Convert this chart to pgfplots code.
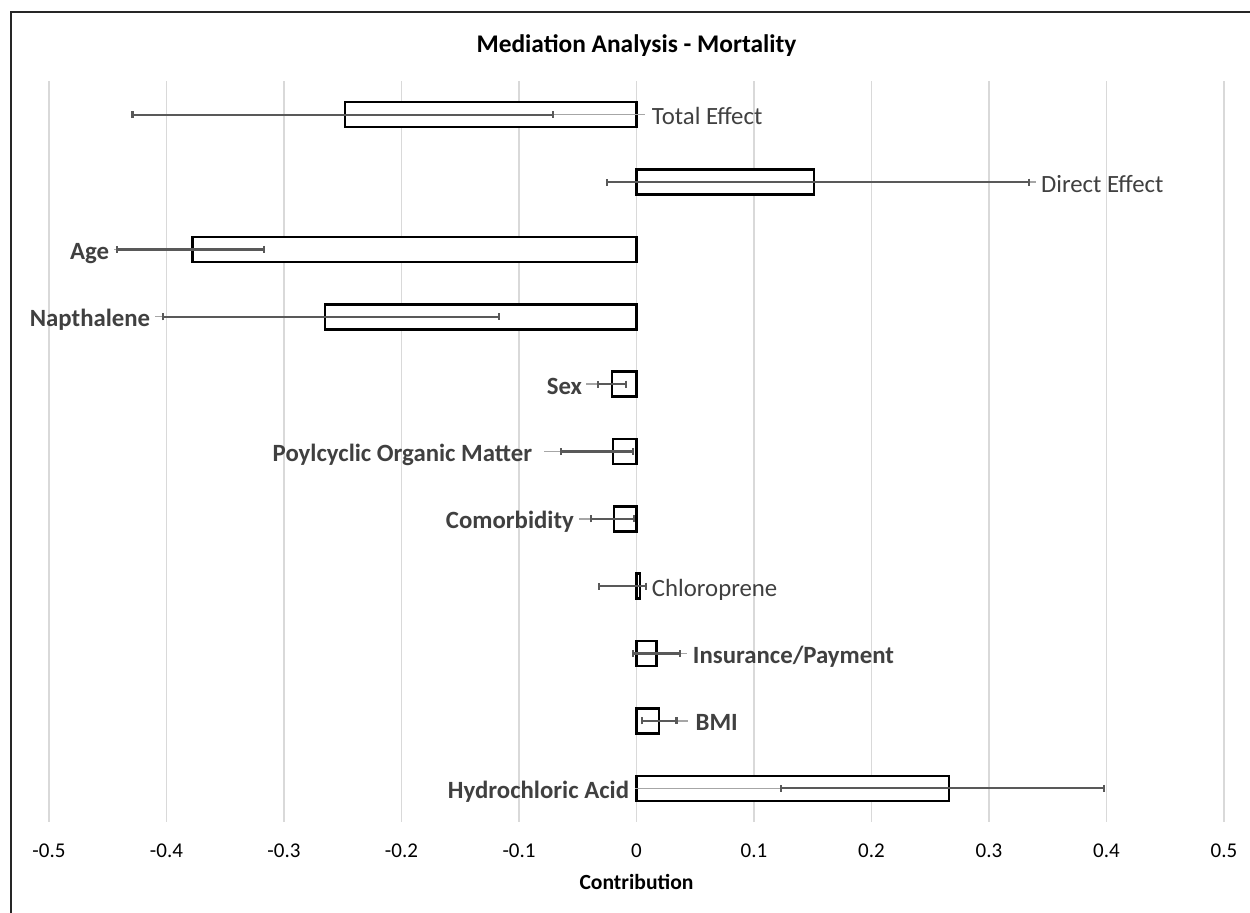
\documentclass[border=0pt]{standalone}
\usepackage{pgfplots}
\pgfplotsset{compat=1.18}
\usepackage{pgfplotstable}
\usepackage{fontspec}
\setmainfont{Carlito}
\definecolor{lbl}{HTML}{404040}
\definecolor{ebar}{HTML}{595959}
\definecolor{leadc}{HTML}{A6A6A6}
\definecolor{gridc}{HTML}{D9D9D9}
\tikzset{lbl/.style={text=lbl, inner sep=0pt, yshift=-5bp, font=\fontsize{12.4bp}{14bp}\selectfont}}

% y = row (0 at top), val = bar value, lo/hi = error bar ends, lead = leader line end (label side)
\pgfplotstableread{
y val lo hi lead
0 -0.248 -0.429 -0.071 0.007
1 0.151 -0.025 0.334 0.340
2 -0.378 -0.442 -0.317 -0.445
3 -0.265 -0.403 -0.117 -0.410
4 -0.021 -0.033 -0.009 -0.043
5 -0.020 -0.064 -0.003 -0.079
6 -0.019 -0.039 -0.002 -0.049
7 0.003 -0.032 0.008 0.009
8 0.017 -0.003 0.037 0.043
9 0.019 0.005 0.034 0.044
10 0.266 0.123 0.398 -0.001
}\data

\begin{document}
\begin{tikzpicture}
\useasboundingbox (-24.5bp,-45.5bp) rectangle (600.5bp,411bp);
\begin{axis}[
  at={(0,0)}, anchor=south west,
  scale only axis, width=587.5bp, height=370.5bp,
  xmin=-0.5, xmax=0.5, ymin=-0.5, ymax=10.5, y dir=reverse,
  axis line style={draw=none},
  xtick={-0.5,-0.4,-0.3,-0.2,-0.1,0,0.1,0.2,0.3,0.4,0.5},
  xticklabels={-0.5,-0.4,-0.3,-0.2,-0.1,0,0.1,0.2,0.3,0.4,0.5},
  ytick=\empty,
  major tick length=0pt, tick style={draw=none},
  xmajorgrids, grid style={color=gridc, line width=0.75bp},
  xticklabel style={anchor=base, yshift=-17.5bp, text=black, font=\fontsize{10.5bp}{12bp}\selectfont},
  xlabel={\textbf{Contribution}},
  xlabel style={at={(axis description cs:0.5,0)}, anchor=base, yshift=-33.5bp, text=black, font=\fontsize{10.8bp}{12bp}\selectfont},
  title={\textbf{Mediation Analysis - Mortality}},
  title style={at={(axis description cs:0.5,1)}, anchor=base, yshift=8.5bp, text=black, font=\fontsize{12.7bp}{14bp}\selectfont},
  clip=false,
]
\addplot[xbar, bar width=12.5bp, bar shift=0pt, draw=black, fill=white, line width=1.3bp]
  table[x=val, y=y] {\data};
\addplot[draw=none, mark=none, forget plot,
  error bars/.cd, x dir=both, x explicit, error mark=none,
  error bar style={draw=leadc, solid, line width=0.7bp}]
  table[x=val, y=y,
    x error plus expr={max(\thisrow{lead}-\thisrow{val},0)},
    x error minus expr={max(\thisrow{val}-\thisrow{lead},0)}] {\data};
\addplot[draw=none, mark=none, forget plot,
  error bars/.cd, x dir=both, x explicit, error mark=|,
  error bar style={draw=ebar, solid, line width=1.1bp},
  error mark options={draw=ebar, solid, line width=1.1bp, mark size=1.75bp}]
  table[x=val, y=y,
    x error plus expr={\thisrow{hi}-\thisrow{val}},
    x error minus expr={\thisrow{val}-\thisrow{lo}}] {\data};

\node[lbl, anchor=base west] at (axis cs:0.0128,0) {Total Effect};
\node[lbl, anchor=base west] at (axis cs:0.344,1) {Direct Effect};
\node[lbl, anchor=base east] at (axis cs:-0.4485,2) {\textbf{Age}};
\node[lbl, anchor=base east] at (axis cs:-0.4136,3) {\textbf{Napthalene}};
\node[lbl, anchor=base east] at (axis cs:-0.046,4) {\textbf{Sex}};
\node[lbl, anchor=base east] at (axis cs:-0.0885,5) {\textbf{Poylcyclic Organic Matter}};
\node[lbl, anchor=base east] at (axis cs:-0.053,6) {\textbf{Comorbidity}};
\node[lbl, anchor=base west] at (axis cs:0.0128,7) {Chloroprene};
\node[lbl, anchor=base west] at (axis cs:0.0477,8) {\textbf{Insurance/Payment}};
\node[lbl, anchor=base west] at (axis cs:0.050,9) {\textbf{BMI}};
\node[lbl, anchor=base east] at (axis cs:-0.006,10) {\textbf{Hydrochloric Acid}};
\end{axis}
\draw[black!85, line width=1bp] (-19bp,-45.5bp) -- (-19bp,405bp) -- (600.5bp,405bp);
\end{tikzpicture}
\end{document}
